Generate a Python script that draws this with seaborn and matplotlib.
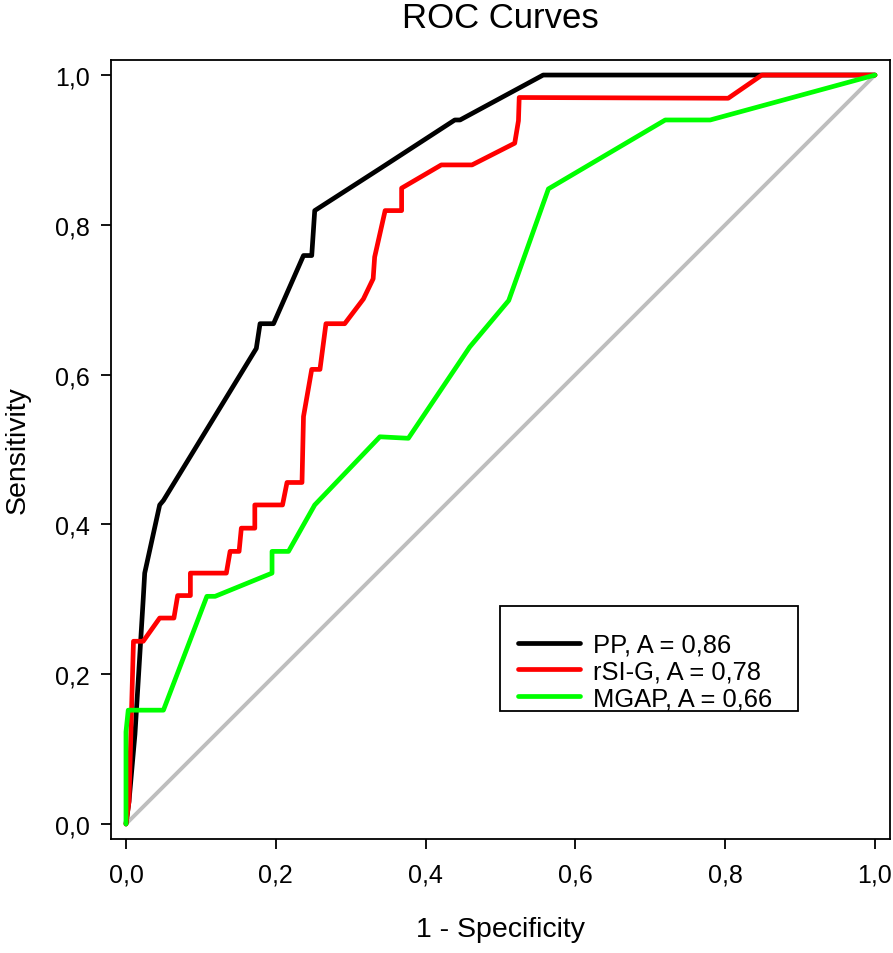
import numpy as np
import pandas as pd
import seaborn as sns
import matplotlib.pyplot as plt
from matplotlib.patches import Rectangle

# ROC curve points (1 - specificity, sensitivity)
pp_fpr = [0, 0.004, 0.012, 0.023, 0.025, 0.045, 0.05, 0.174, 0.179, 0.197,
          0.237, 0.248, 0.252, 0.339, 0.439, 0.446, 0.557, 1.0]
pp_tpr = [0, 0.03, 0.12, 0.30, 0.335, 0.426, 0.432, 0.635, 0.668, 0.668,
          0.759, 0.759, 0.819, 0.875, 0.940, 0.940, 1.0, 1.0]

rsig_fpr = [0, 0.004, 0.01, 0.023, 0.045, 0.064, 0.069, 0.086, 0.086, 0.134,
            0.139, 0.151, 0.154, 0.172, 0.172, 0.209, 0.215, 0.235, 0.237,
            0.248, 0.259, 0.267, 0.292, 0.317, 0.330, 0.332, 0.346, 0.368,
            0.368, 0.421, 0.462, 0.519, 0.524, 0.525, 0.804, 0.849, 1.0]
rsig_tpr = [0, 0.03, 0.244, 0.244, 0.275, 0.275, 0.305, 0.305, 0.335, 0.335,
            0.364, 0.364, 0.395, 0.395, 0.426, 0.426, 0.456, 0.456, 0.544,
            0.607, 0.607, 0.668, 0.668, 0.701, 0.728, 0.757, 0.819, 0.819,
            0.849, 0.880, 0.880, 0.909, 0.939, 0.970, 0.969, 1.0, 1.0]

mgap_fpr = [0, 0, 0.003, 0.05, 0.108, 0.119, 0.195, 0.195, 0.217, 0.252,
            0.339, 0.377, 0.459, 0.511, 0.564, 0.720, 0.78, 1.0]
mgap_tpr = [0, 0.123, 0.152, 0.152, 0.304, 0.304, 0.335, 0.364, 0.364, 0.426,
            0.517, 0.515, 0.637, 0.699, 0.848, 0.940, 0.940, 1.0]

labels = ["PP, A = 0,86", "rSI-G, A = 0,78", "MGAP, A = 0,66"]
colors = ["#000000", "#ff0000", "#00ff00"]
ticks = [0, 0.2, 0.4, 0.6, 0.8, 1.0]
tick_labels = ["0,0", "0,2", "0,4", "0,6", "0,8", "1,0"]

frames = []
for lab, fx, ty in zip(labels, [pp_fpr, rsig_fpr, mgap_fpr],
                       [pp_tpr, rsig_tpr, mgap_tpr]):
    frames.append(pd.DataFrame({"fpr": fx, "tpr": ty, "model": lab}))
df = pd.concat(frames, ignore_index=True)

sns.set_style("white", {"text.color": "black", "axes.labelcolor": "black",
                        "xtick.color": "black", "ytick.color": "black",
                        "axes.edgecolor": "black"})
plt.rcParams['font.family'] = ['Liberation Sans', 'DejaVu Sans']

fig = plt.figure(figsize=(8.93, 9.54), dpi=100)
ax = fig.add_axes([0.1243, 0.1195, 0.8723, 0.8165])

ax.plot([0, 1], [0, 1], color="#bebebe", lw=2.8, zorder=1)
sns.lineplot(data=df, x="fpr", y="tpr", hue="model", palette=colors,
             hue_order=labels, sort=False, estimator=None, units="model",
             lw=3.4, ax=ax, zorder=2)

ax.set_xlim(-0.02, 1.02)
ax.set_ylim(-0.02, 1.02)
ax.set_xticks(ticks)
ax.set_xticklabels(tick_labels)
ax.set_yticks(ticks)
ax.set_yticklabels(tick_labels)
ax.tick_params(axis="both", direction="out", length=7, width=1.3,
               labelsize=18, colors="black", pad=8.5, bottom=True, left=True)
ax.tick_params(axis="x", pad=10)
for s in ax.spines.values():
    s.set_color("black")
    s.set_linewidth(1.3)

ax.set_xlabel("1 - Specificity", fontsize=20.5, labelpad=21)
ax.set_ylabel("Sensitivity", fontsize=20.5, labelpad=17)
ax.set_title("ROC Curves", fontsize=25, pad=24)

# legend entries without frame, box drawn separately (R-style tight bottom)
leg = ax.legend(loc="upper left", bbox_to_anchor=(0.5225, 0.2650),
                fontsize=18.4, frameon=False,
                handlelength=2.43, handletextpad=0.5, borderpad=0,
                labelspacing=0.11, borderaxespad=0)
for line in leg.get_lines():
    line.set_linewidth(3.4)
ax.add_patch(Rectangle((0.4994, 0.1643), 0.3825, 0.1348,
                       transform=ax.transAxes, fill=False,
                       edgecolor="black", lw=1.3, zorder=5))

fig.savefig("out.png", dpi=100)
